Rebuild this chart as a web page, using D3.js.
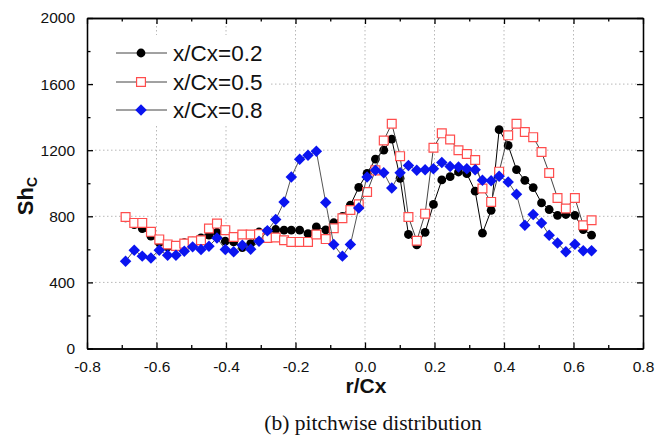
<!DOCTYPE html>
<html><head><meta charset="utf-8">
<script src="https://cdn.jsdelivr.net/npm/d3@7"></script>
<style>body{margin:0;background:#fff}svg{display:block}</style>
</head><body><svg id="c" width="656" height="439"></svg>
<script>
const rCx = [-0.689,-0.664,-0.641,-0.616,-0.592,-0.568,-0.544,-0.520,-0.496,-0.472,-0.449,-0.426,-0.402,-0.378,-0.353,-0.329,-0.305,-0.281,-0.257,-0.233,-0.212,-0.188,-0.164,-0.140,-0.113,-0.090,-0.065,-0.042,-0.018,0.006,0.030,0.054,0.077,0.101,0.125,0.149,0.173,0.197,0.221,0.245,0.269,0.293,0.317,0.338,0.363,0.386,0.412,0.436,0.460,0.484,0.508,0.530,0.554,0.578,0.604,0.628,0.652];
const sh02 = [790,750,726,680,640,615,620,640,650,670,686,702,649,645,611,635,705,710,720,716,716,716,695,736,718,761,800,868,975,1060,1146,1200,1267,1030,690,627,703,872,1020,1040,1068,1058,952,698,836,1324,1229,1082,1018,974,881,841,806,811,806,720,686];
const sh05 = [796,760,760,706,660,630,621,635,649,655,726,756,716,675,690,690,692,669,672,655,645,645,645,690,662,728,788,838,873,947,1078,1259,1360,1164,796,652,816,1215,1302,1265,1200,1177,1141,968,887,1070,1290,1360,1310,1279,1189,1062,911,847,911,746,776];
const sh08 = [528,595,559,548,595,565,565,589,615,599,619,669,599,585,625,601,649,712,780,887,1038,1145,1169,1193,883,629,559,629,850,1038,1078,1064,971,1064,1108,1078,1082,1088,1125,1102,1098,1088,1082,1018,1015,1042,1008,933,746,811,760,686,639,585,631,591,591];
const seriesNames = ["x/Cx=0.2","x/Cx=0.5","x/Cx=0.8"];
const xTicks = [-0.8,-0.6,-0.4,-0.2,0.0,0.2,0.4,0.6,0.8];
const yTicks = [0,400,800,1200,1600,2000];

const svg = d3.select("#c");
const L=87, R=643, T=18, B=348.5;
const x = d3.scaleLinear().domain([-0.8,0.8]).range([L,R]);
const y = d3.scaleLinear().domain([0,2000]).range([B,T]);
const font = "'Liberation Sans', Arial, sans-serif";

// grid
const g = svg.append("g");
g.selectAll(".gx").data(xTicks.slice(1,-1)).join("line")
  .attr("x1",d=>x(d)).attr("x2",d=>x(d)).attr("y1",T).attr("y2",B)
  .attr("stroke","#b8b8b8").attr("stroke-width",1).attr("stroke-dasharray","1.5,2.5");
g.selectAll(".gy").data(yTicks.slice(1,-1)).join("line")
  .attr("x1",L).attr("x2",R).attr("y1",d=>y(d)).attr("y2",d=>y(d))
  .attr("stroke","#b8b8b8").attr("stroke-width",1).attr("stroke-dasharray","1.5,2.5");

// legend background (covers grid)
const leg = svg.append("g");
leg.append("rect").attr("x",95).attr("y",35).attr("width",175).attr("height",90).attr("fill","#fff");

const minorX = d3.range(-0.7,0.8,0.2);
const minorY = d3.range(200,2000,400);

function axisG(axis, tr){ const a=svg.append("g").attr("transform",tr).call(axis);
  a.select(".domain").attr("stroke","#000").attr("stroke-width",1.3);
  a.selectAll(".tick line").attr("stroke","#000").attr("stroke-width",1.3);
  a.selectAll("text").attr("font-family",font).attr("font-size","15.5px").attr("fill","#111");
  return a; }
axisG(d3.axisBottom(x).tickValues(xTicks).tickSize(-6).tickSizeOuter(0).tickPadding(12).tickFormat(d=>d.toFixed(1)), `translate(0,${B})`);
axisG(d3.axisBottom(x).tickValues(minorX).tickSize(-3.5).tickSizeOuter(0).tickFormat(""), `translate(0,${B})`);
axisG(d3.axisTop(x).tickValues(xTicks).tickSize(-6).tickSizeOuter(0).tickFormat(""), `translate(0,${T})`);
axisG(d3.axisTop(x).tickValues(minorX).tickSize(-3.5).tickSizeOuter(0).tickFormat(""), `translate(0,${T})`);
axisG(d3.axisLeft(y).tickValues(yTicks).tickSize(-6).tickSizeOuter(0).tickPadding(12).tickFormat(d=>String(d)), `translate(${L},0)`);
axisG(d3.axisLeft(y).tickValues(minorY).tickSize(-3.5).tickSizeOuter(0).tickFormat(""), `translate(${L},0)`);
axisG(d3.axisRight(y).tickValues(yTicks).tickSize(-6).tickSizeOuter(0).tickFormat(""), `translate(${R},0)`);
axisG(d3.axisRight(y).tickValues(minorY).tickSize(-3.5).tickSizeOuter(0).tickFormat(""), `translate(${R},0)`);

const line = d3.line().x(d=>x(d[0])).y(d=>y(d[1]));
const sqSym = d3.symbol().type(d3.symbolSquare).size(78);
const diaSym = d3.symbol().type(d3.symbolSquare).size(66);

const series = [
  {vals:sh02, lc:"#000", draw:(sel)=>sel.append("circle").attr("r",4.4).attr("fill","#000")},
  {vals:sh05, lc:"#444", draw:(sel)=>sel.append("path").attr("d",sqSym).attr("fill","#fff").attr("stroke","#ff4d4d").attr("stroke-width",1.2)},
  {vals:sh08, lc:"#555", draw:(sel)=>sel.append("path").attr("d",diaSym).attr("transform","rotate(45)").attr("fill","#0a14f0")}
];
series.forEach(s=>{
  const pts = rCx.map((r,i)=>[r,s.vals[i]]);
  svg.append("path").datum(pts).attr("d",line).attr("fill","none").attr("stroke",s.lc).attr("stroke-width",1);
  const m = svg.append("g").selectAll("g").data(pts).join("g").attr("transform",d=>`translate(${x(d[0])},${y(d[1])})`);
  s.draw(m);
});

// legend
const ly = [53,82,110];
leg.raise();
series.forEach((s,i)=>{
  const row = leg.append("g").attr("transform",`translate(0,${ly[i]})`);
  row.append("line").attr("x1",116).attr("x2",167).attr("stroke","#444").attr("stroke-width",1);
  const mk = row.append("g").attr("transform","translate(141,0)");
  s.draw(mk);
  row.append("text").attr("x",173).attr("y",8).attr("font-family",font).attr("font-size","22.5px").attr("fill","#111").text(seriesNames[i]);
});

// axis titles
const yl = svg.append("text").attr("transform","translate(33,196) rotate(-90)").attr("text-anchor","middle")
  .attr("font-family",font).attr("font-weight","bold").attr("font-size","22px").attr("fill","#111");
yl.append("tspan").text("Sh");
yl.append("tspan").attr("font-size","14px").attr("dy",4).text("C");
svg.append("text").attr("x",366).attr("y",393).attr("text-anchor","middle").attr("font-family",font)
  .attr("font-weight","bold").attr("font-size","21px").attr("fill","#111").text("r/Cx");
svg.append("text").attr("x",373).attr("y",430).attr("text-anchor","middle").attr("font-family","'Liberation Serif','Times New Roman',serif")
  .attr("font-size","21.5px").attr("fill","#111").text("(b) pitchwise distribution");
</script></body></html>
